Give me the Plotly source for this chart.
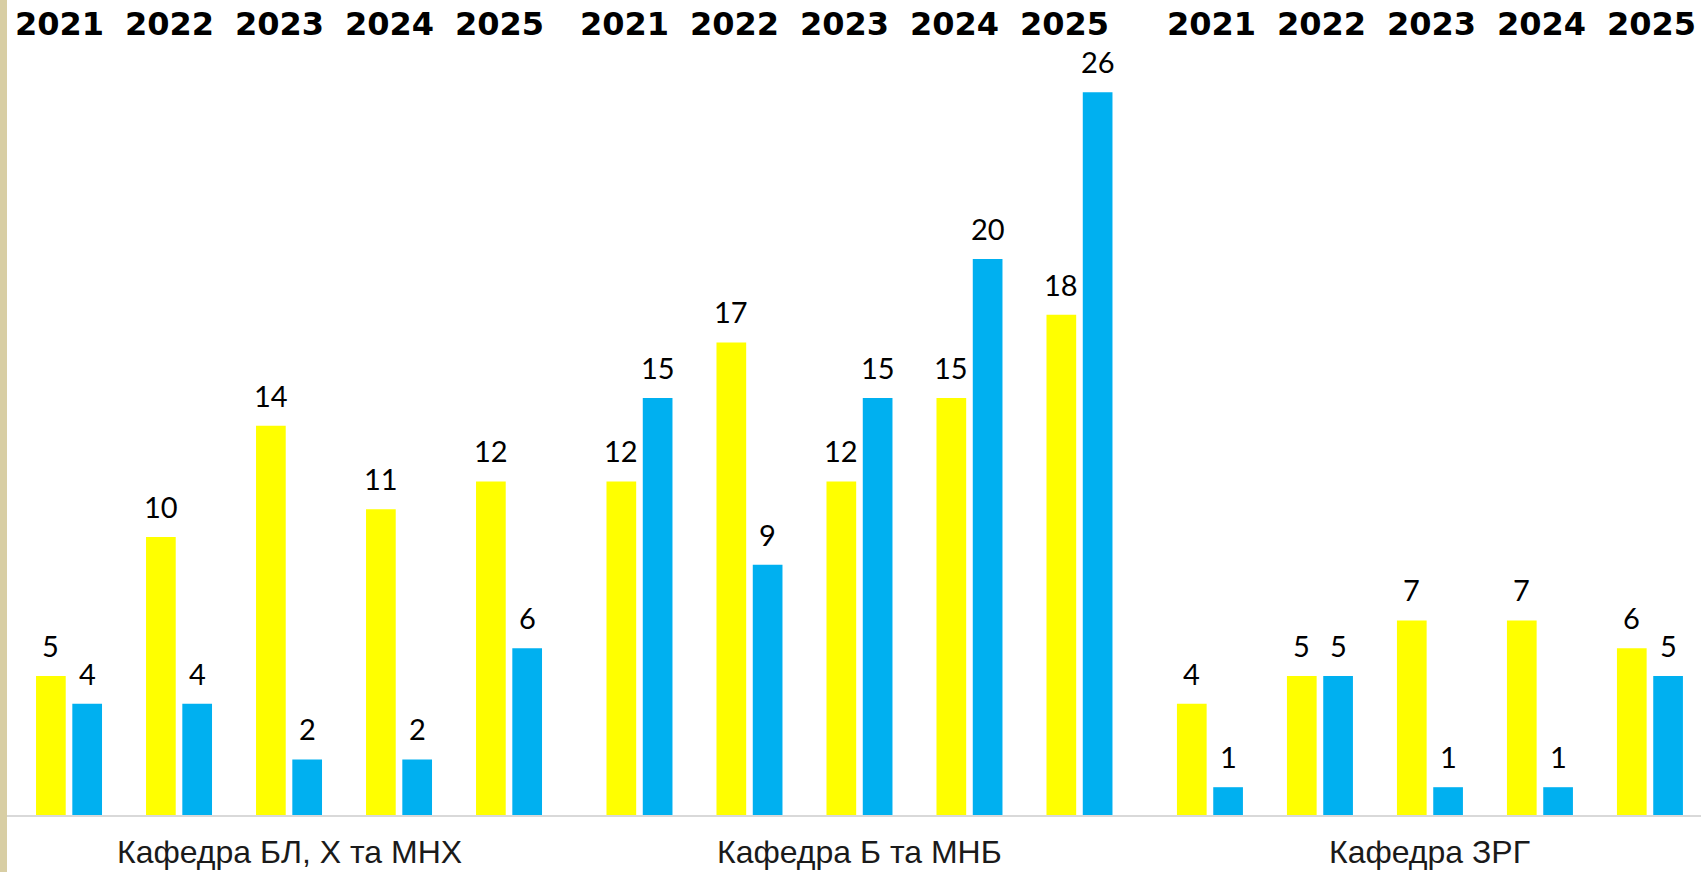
import plotly.graph_objects as go

# ---------------- data ----------------
departments = ["Кафедра БЛ, Х та МНХ", "Кафедра Б та МНБ", "Кафедра ЗРГ"]
years = ["2021", "2022", "2023", "2024", "2025"]
yellow_values = [
    [5, 10, 14, 11, 12],
    [12, 17, 12, 15, 18],
    [4, 5, 7, 7, 6],
]
blue_values = [
    [4, 4, 2, 2, 6],
    [15, 9, 15, 20, 26],
    [1, 5, 1, 1, 5],
]

# ---------------- style ----------------
YELLOW = "#FFFF00"
BLUE = "#00B0F0"
GAP = 0.186            # extra space between department blocks (in slot units)
BAR_W = 0.27
OFF_Y = -0.30
OFF_B = 0.03
YEAR_SHIFT = [-10, -15, 2]

n = len(years)
xs, yv, bv, year_lbl, dept_idx = [], [], [], [], []
for d in range(len(departments)):
    for i in range(n):
        xs.append(d * (n + GAP) + i)
        yv.append(yellow_values[d][i])
        bv.append(blue_values[d][i])
        year_lbl.append(years[i])
        dept_idx.append(d)

fig = go.Figure()
fig.add_trace(go.Bar(x=xs, y=yv, width=BAR_W, offset=OFF_Y,
                     marker=dict(color=YELLOW, line=dict(width=0)),
                     showlegend=False, hoverinfo="skip"))
fig.add_trace(go.Bar(x=xs, y=bv, width=BAR_W, offset=OFF_B,
                     marker=dict(color=BLUE, line=dict(width=0)),
                     showlegend=False, hoverinfo="skip"))

annotations = []
LABEL_FONT = dict(family="Lato, 'Open Sans', sans-serif", size=29, color="#000000")
for x, a, b in zip(xs, yv, bv):
    annotations.append(dict(x=x + OFF_Y + BAR_W / 2, y=a, xref="x", yref="y",
                            text=str(a), showarrow=False, yanchor="bottom",
                            yshift=11, font=LABEL_FONT))
    annotations.append(dict(x=x + OFF_B + BAR_W / 2, y=b, xref="x", yref="y",
                            text=str(b), showarrow=False, yanchor="bottom",
                            yshift=11, font=LABEL_FONT))

# year labels along the top
for x, lbl, d in zip(xs, year_lbl, dept_idx):
    annotations.append(dict(x=x, y=1, xref="x", yref="paper", text="<b>" + lbl + "</b>",
                            showarrow=False, yanchor="middle", yshift=26,
                            xshift=YEAR_SHIFT[d],
                            font=dict(family="DejaVu Sans", size=32, color="#000000")))

# department labels along the bottom
for d, name in enumerate(departments):
    annotations.append(dict(x=d * (n + GAP) + (n - 1) / 2, y=0, xref="x", yref="paper",
                            text=name, showarrow=False, yanchor="top", yshift=-17,
                            font=dict(family="Liberation Sans, Arial", size=32, color="#1a1a1a")))

fig.update_layout(
    width=1701, height=872,
    margin=dict(l=5, r=0, t=50, b=57),
    paper_bgcolor="white", plot_bgcolor="white",
    barmode="overlay",
    annotations=annotations,
    xaxis=dict(range=[-0.582, -0.582 + 1696 / 110], showgrid=False, zeroline=False,
               showticklabels=False, ticks="", showline=True, linecolor="#d9d9d9",
               linewidth=2, fixedrange=True),
    yaxis=dict(range=[0, 27.52], showgrid=False, zeroline=False, showticklabels=False,
               ticks="", showline=False, fixedrange=True),
    shapes=[dict(type="rect", xref="paper", yref="paper", x0=-5 / 1696, x1=2 / 1696,
                 y0=-57 / 765, y1=1 + 50 / 765, fillcolor="#d8cea4",
                 line=dict(width=0), layer="above")],
)

fig.write_html("out.html", config={"displayModeBar": False},
               post_script="document.body.style.margin='0';document.body.style.overflow='hidden';")
